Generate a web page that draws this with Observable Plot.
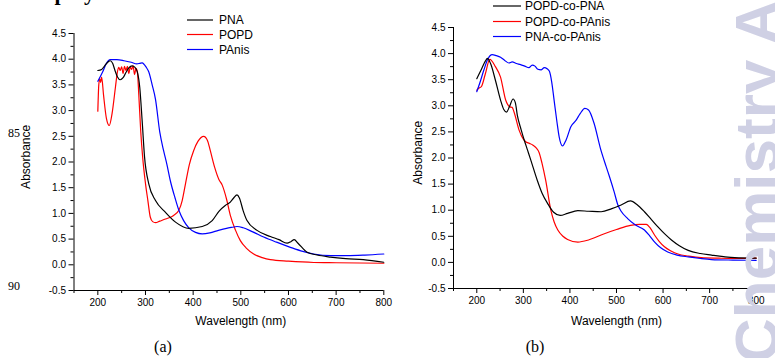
<!DOCTYPE html>
<html><head><meta charset="utf-8">
<script src="https://cdn.jsdelivr.net/npm/d3@7"></script>
<script src="https://cdn.jsdelivr.net/npm/@observablehq/plot@0.6"></script>
<style>
body{margin:0;background:#fff;}
#wrap{position:relative;width:775px;height:358px;overflow:hidden;background:#fff;font-family:"Liberation Sans",Arial,sans-serif;}
#wrap svg{position:absolute;top:0;}
</style></head><body><div id="wrap"></div>
<script>
// ---- Panel (a) data ----
const seriesA = ["PNA", "POPD", "PAnis"];
const wlPNA = [200,208,215,222,226,231,236,241,247,253,259,265,272,278,283,288,293,298,307,321,342,363,391,419,440,455,468,478,485,492,497,505,513,534,562,580,597,605,612,620,639,660,688,720,757,800];
const absPNA = [3.78,3.80,3.88,3.95,3.97,3.92,3.78,3.66,3.60,3.64,3.74,3.83,3.87,3.84,3.75,3.45,2.80,2.10,1.57,1.25,1.02,0.83,0.71,0.745,0.86,1.05,1.16,1.22,1.30,1.36,1.30,1.05,0.86,0.67,0.55,0.49,0.42,0.45,0.49,0.42,0.245,0.19,0.15,0.12,0.10,0.05];
const wlPOPD = [200,202,204,206,208,212,218,224,230,237,241,244,247,250,253,256,259,262,265,268,271,274,277,280,283,286,290,294,300,305,310,315,321,330,342,359,370,377,384,392,401,410,422,430,436,445,454,461,470,478,489,499,512,527,545,562,600,653,700,800];
const absPOPD = [2.99,3.50,3.62,3.55,3.65,3.30,2.85,2.71,2.95,3.46,3.75,3.84,3.78,3.85,3.72,3.86,3.78,3.86,3.72,3.85,3.80,3.87,3.70,3.82,3.75,3.30,2.60,2.10,1.58,1.25,0.93,0.84,0.82,0.85,0.89,0.96,1.06,1.25,1.58,1.95,2.22,2.40,2.50,2.42,2.22,1.90,1.66,1.55,1.28,0.96,0.67,0.47,0.32,0.21,0.14,0.10,0.07,0.045,0.04,0.03];
const wlPAnis = [200,210,218,226,240,255,270,282,288,293,297,301,307,314,321,330,338,345,352,362,370,380,391,405,419,435,453,470,482,492,505,525,548,575,604,630,653,690,723,760,800];
const absPAnis = [3.57,3.75,3.92,3.99,3.99,3.97,3.94,3.91,3.92,3.93,3.90,3.85,3.75,3.50,3.22,2.58,2.22,1.95,1.64,1.30,1.06,0.86,0.72,0.63,0.60,0.62,0.67,0.71,0.73,0.745,0.72,0.64,0.54,0.44,0.34,0.26,0.21,0.18,0.18,0.19,0.21];

// ---- Panel (b) data ----
const seriesB = ["POPD-co-PNA", "POPD-co-PAnis", "PNA-co-PAnis"];
const wlB1 = [200,210,218,223,230,240,251,258,264,270,278,283,287,295,302,309,316,330,340,352,365,379,395,417,440,467,490,510,530,545,560,575,589,603,618,635,654,680,704,730,754,800];
const absB1 = [3.52,3.70,3.85,3.91,3.80,3.49,3.11,2.93,2.88,2.98,3.13,3.05,2.82,2.55,2.34,2.15,1.96,1.57,1.33,1.13,0.96,0.90,0.94,0.99,0.98,0.97,1.03,1.10,1.18,1.10,0.97,0.82,0.68,0.55,0.43,0.32,0.23,0.17,0.14,0.11,0.09,0.08];
const wlB2 = [200,205,210,218,228,240,251,262,271,276,280,291,300,305,313,320,327,334,340,348,359,366,374,385,395,417,440,474,500,530,550,564,573,582,592,603,617,632,655,682,720,754,800];
const absB2 = [3.30,3.34,3.37,3.60,3.89,3.75,3.55,3.11,2.98,2.97,2.88,2.53,2.36,2.31,2.28,2.25,2.20,2.10,1.90,1.57,1.00,0.78,0.62,0.50,0.44,0.39,0.43,0.55,0.63,0.71,0.73,0.73,0.65,0.52,0.40,0.30,0.22,0.16,0.12,0.09,0.08,0.075,0.08];
const wlB3 = [200,207,215,224,233,242,251,260,269,276,285,294,303,312,319,325,331,338,345,351,356,361,366,372,377,384,392,402,413,422,432,440,452,465,478,485,495,503,510,524,540,560,572,582,595,610,630,654,680,704,750,800];
const absB3 = [3.27,3.45,3.68,3.90,3.98,3.96,3.93,3.87,3.82,3.84,3.81,3.79,3.76,3.73,3.78,3.76,3.70,3.69,3.73,3.71,3.66,3.45,3.11,2.70,2.40,2.23,2.35,2.60,2.72,2.85,2.95,2.92,2.66,2.20,1.83,1.64,1.35,1.10,0.98,0.84,0.72,0.62,0.50,0.39,0.28,0.20,0.14,0.105,0.075,0.055,0.045,0.04];

const colors = ["#000000", "#ff0000", "#0000ff"];
const xTicks = [200,300,400,500,600,700,800];
const xMinor = [150,250,350,450,550,650,750];
const yTicks = [-0.5,0,0.5,1,1.5,2,2.5,3,3.5,4,4.5];
const yMinor = [-0.25,0.25,0.75,1.25,1.75,2.25,2.75,3.25,3.75,4.25];

const toRows = (wl, ab, s) => wl.map((w, i) => ({wl: w, abs: ab[i], s}));
const panelA = [toRows(wlPNA, absPNA, seriesA[0]), toRows(wlPOPD, absPOPD, seriesA[1]), toRows(wlPAnis, absPAnis, seriesA[2])];
const panelB = [toRows(wlB1, absB1, seriesB[0]), toRows(wlB2, absB2, seriesB[1]), toRows(wlB3, absB3, seriesB[2])];

function panel(data, opt) {
  const lines = [];
  [1, 2, 0].forEach(i => lines.push(Plot.line(data[i], {x: "wl", y: "abs", stroke: colors[i], strokeWidth: 1.2, curve: "monotone-x"})));
  return Plot.plot({
    width: opt.width, height: 358,
    marginLeft: opt.ml, marginRight: opt.mr, marginTop: opt.mt, marginBottom: opt.mb,
    style: {background: "transparent", fontFamily: "'Liberation Sans', Arial, sans-serif", fontSize: "10px", color: "#000"},
    x: {domain: [150, 800], label: null},
    y: {domain: [-0.5, 4.5], label: null},
    marks: [
      Plot.axisX({ticks: xMinor, tickSize: 3, tickFormat: () => "", label: null}),
      Plot.axisX({ticks: xTicks, tickSize: 5, tickPadding: 3, tickFormat: d => String(d), label: null}),
      Plot.axisY({ticks: yMinor, tickSize: 3, tickFormat: () => "", label: null}),
      Plot.axisY({ticks: yTicks, tickSize: 5, tickPadding: 3, tickFormat: d => d.toFixed(1), label: null}),
      Plot.ruleX([150], {y1: -0.5, y2: 4.5, stroke: "#000"}),
      Plot.ruleY([-0.5], {x1: 150, x2: 800, stroke: "#000"}),
      ...lines,
      Plot.text(["Wavelength (nm)"], {x: 500, y: -0.5, text: d => d, dy: opt.xlabDy, fontSize: 12}),
      Plot.text(["Absorbance"], {x: 150, y: 2.1, text: d => d, rotate: -90, dx: opt.ylabDx, fontSize: 12})
    ]
  });
}

const wrap = document.getElementById("wrap");
const svgA = panel(panelA, {width: 400, ml: 73.5, mr: 16.7, mt: 33, mb: 68, xlabDy: 31, ylabDx: -47.5});
svgA.style.left = "0px";
wrap.appendChild(svgA);
const svgB = panel(panelB, {width: 395, ml: 73, mr: 19.3, mt: 27, mb: 70, xlabDy: 33, ylabDx: -35.5});
svgB.style.left = "380px";
wrap.appendChild(svgB);

// overlay: legends, panel letters, line numbers, watermark
const ov = d3.select(wrap).append("svg").attr("width", 775).attr("height", 358).style("left", "0px");
function legend(names, x0, x1, tx, ys) {
  names.forEach((n, i) => {
    ov.append("line").attr("x1", x0).attr("x2", x1).attr("y1", ys[i]).attr("y2", ys[i]).attr("stroke", colors[i]).attr("stroke-width", 1.2);
    ov.append("text").attr("x", tx).attr("y", ys[i]).attr("dy", "0.35em").attr("font-size", 12)
      .attr("font-family", "'Liberation Sans', Arial, sans-serif").text(n);
  });
}
legend(seriesA, 187, 213, 219, [20, 34.5, 49.5]);
legend(seriesB, 493, 521, 525, [6, 21.5, 36.5]);

const serif = "'Liberation Serif', 'Times New Roman', serif";
ov.append("text").attr("x", 163).attr("y", 352).attr("text-anchor", "middle").attr("font-size", 16).attr("font-family", serif).text("(a)");
ov.append("text").attr("x", 535).attr("y", 352).attr("text-anchor", "middle").attr("font-size", 16).attr("font-family", serif).text("(b)");
ov.append("text").attr("x", 8).attr("y", 137).attr("font-size", 12).attr("font-family", serif).text("85");
ov.append("text").attr("x", 8).attr("y", 290).attr("font-size", 12).attr("font-family", serif).text("90");
ov.append("text").attr("x", 24).attr("y", 0).attr("font-size", 22).attr("font-weight", "bold").attr("font-family", serif).text("Display");
ov.append("text").attr("transform", "translate(778,0) rotate(-90)").attr("text-anchor", "end")
  .attr("font-size", 62).attr("font-weight", "bold").attr("font-family", "'Liberation Sans', Arial, sans-serif")
  .attr("fill", "#cfd0e4").text("Chemistry A");
</script></body></html>
